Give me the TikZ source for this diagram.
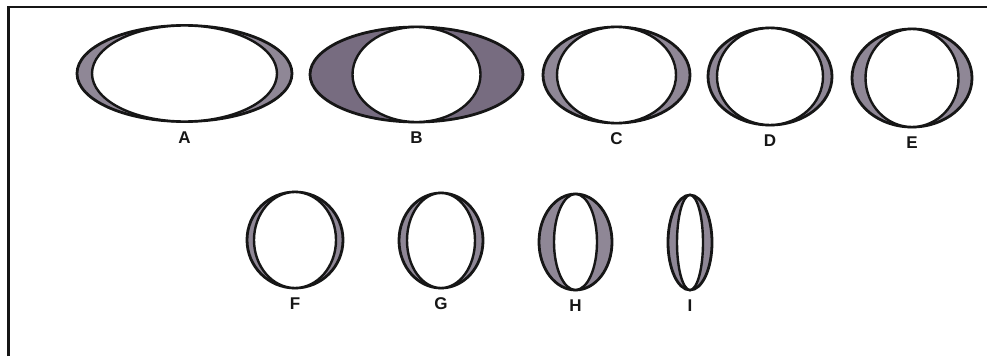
\documentclass[tikz,border=0pt]{standalone}
\usepackage{fontspec}
\setmainfont{Liberation Sans}
\usepackage{xcolor}
\usepackage{tikz}
\usetikzlibrary{positioning}
\definecolor{rimc}{HTML}{161616}
\definecolor{shadec}{HTML}{8F8796}
\definecolor{darkshade}{HTML}{776C80}
\tikzset{
  lens/.style={draw=rimc,line width=2.8pt,fill=shadec},
  pupil/.style={draw=rimc,line width=2.4pt,fill=white},
  lbl/.style={font=\fontsize{17}{19}\selectfont\bfseries,inner sep=0pt,text=rimc}
}
\begin{document}
\begin{tikzpicture}[x=1pt,y=-1pt]
\useasboundingbox (0,0) rectangle (987,356);
\draw[rimc,line width=2.6pt] (8.5,356) -- (8.5,7) -- (987,7);
\foreach \n/\x/\y/\ra/\rb/\ri in {A/184.5/73.5/107.5/48/92.5,C/616.5/75/73.5/48/59.5,D/770/76.5/62/48.5/53,E/912/78/60/49/46.5,F/295/240/48/48/41,G/441/240.5/42/47.5/34,H/575.5/242/36.5/48/21.5,I/690/242.5/22/47.5/13}{
 \draw[lens] (\x,\y) ellipse ({\ra} and {\rb});
 \draw[pupil] (\x,\y) ellipse ({\ri} and {\rb});
 \node[lbl] (lab\n) at (\x,\y+\rb+16) {\n};}
\draw[lens,fill=darkshade] (416.5,74.5) ellipse (106.5 and 47.5);
\draw[pupil] (416.5,74.5) ellipse (64 and 47.5);
\node[lbl] (labB) at (416.5,138) {B};
\end{tikzpicture}
\end{document}
